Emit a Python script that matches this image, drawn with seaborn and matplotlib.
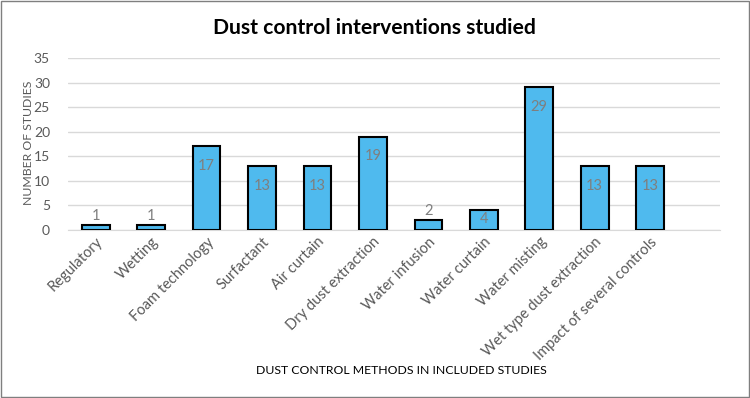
import matplotlib
matplotlib.use("Agg")
import matplotlib.pyplot as plt
import seaborn as sns
import pandas as pd

categories = ["Regulatory", "Wetting", "Foam technology", "Surfactant", "Air curtain",
              "Dry dust extraction", "Water infusion", "Water curtain", "Water misting",
              "Wet type dust extraction", "Impact of several controls"]
values = [1, 1, 17, 13, 13, 19, 2, 4, 29, 13, 13]
yticks = [0, 5, 10, 15, 20, 25, 30, 35]

sns.set_style("white")
plt.rcParams['font.family'] = ['Lato', 'DejaVu Sans']

df = pd.DataFrame({"method": categories, "n": values})

fig = plt.figure(figsize=(7.5, 3.98), dpi=100)
ax = fig.add_axes([68/750, 1-230/398, (720-68)/750, (230-58)/398])

sns.barplot(data=df, x="method", y="n", color="#4FBAEE", width=0.5,
            edgecolor="black", linewidth=1.5, saturation=1, ax=ax, zorder=3)

ax.set_ylim(0, 35)
ax.set_yticks(yticks)
ax.set_xlim(-0.5, 11.26)
ax.yaxis.grid(True, color="#d9d9d9", linewidth=1, zorder=0)
ax.set_axisbelow(True)
for s in ["top", "right", "left"]:
    ax.spines[s].set_visible(False)
ax.spines["bottom"].set_color("#d9d9d9")
ax.spines["bottom"].set_zorder(1)
ax.tick_params(axis="both", length=0, colors="#595959", labelsize=10.5)
ax.tick_params(axis="y", pad=13, labelsize=10)
plt.setp(ax.get_xticklabels(), rotation=45, ha="right", rotation_mode="anchor")

for i, v in enumerate(values):
    if v >= 10:
        ax.annotate(str(v), (i, v), xytext=(0, -9), textcoords="offset points",
                    ha="center", va="top", color="#7f7f7f", fontsize=10.5, zorder=5)
    elif v >= 3:
        ax.annotate(str(v), (i, v), xytext=(0, -1.5), textcoords="offset points",
                    ha="center", va="top", color="#7f7f7f", fontsize=10.5, zorder=5)
    else:
        ax.annotate(str(v), (i, v), xytext=(0, 1.5), textcoords="offset points",
                    ha="center", va="bottom", color="#7f7f7f", fontsize=10.5, zorder=5)

ax.set_ylabel("")
ax.set_xlabel("")
fig.text(28/750, 1 - 143/398, "NUMBER OF STUDIES", rotation=90, ha="center", va="center",
         color="#595959", fontsize=8.8)
fig.text(401/750, 1 - 371/398, "DUST CONTROL METHODS IN INCLUDED STUDIES",
         ha="center", va="center", fontsize=8.8, color="black")
fig.text(374/750, 1 - 28/398, "Dust control interventions studied",
         ha="center", va="center", fontsize=15.2, fontweight="bold", color="black")

fig.patches.append(matplotlib.patches.Rectangle((0.001, 0.002), 0.997, 0.995,
                   transform=fig.transFigure, fill=False, edgecolor="#7f7f7f", linewidth=1))

fig.savefig("out.png", dpi=100)
